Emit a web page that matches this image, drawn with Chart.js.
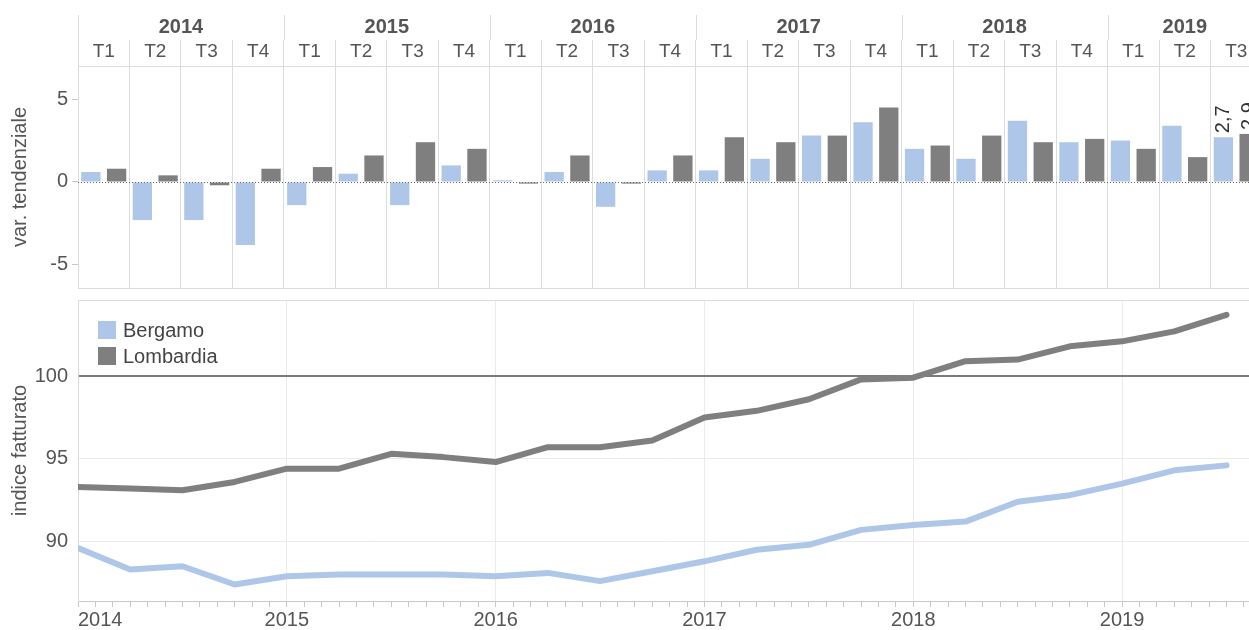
<!DOCTYPE html>
<html lang="it">
<head>
<meta charset="UTF-8">
<title>Fatturato Bergamo e Lombardia</title>
<script src="https://cdn.jsdelivr.net/npm/chart.js"></script>
<style>
  html, body { margin: 0; padding: 0; background: #fff; overflow: hidden; }
  #wrap { position: relative; width: 1249px; height: 630px; overflow: hidden; }
  .box { position: absolute; left: 0; width: 1262px; }
  #top { top: 0; height: 292px; }
  #bottom { top: 292px; height: 338px; }
</style>
</head>
<body>
<div id="wrap">
  <div class="box" id="top"><canvas id="varChart"></canvas></div>
  <div class="box" id="bottom"><canvas id="indexChart"></canvas></div>
</div>
<script>
const yearLabels = ['2014', '2015', '2016', '2017', '2018', '2019'];
const quartersPerYear = [4, 4, 4, 4, 4, 3];
const quarterLabels = [
  'T1', 'T2', 'T3', 'T4', 'T1', 'T2', 'T3', 'T4', 'T1', 'T2', 'T3', 'T4',
  'T1', 'T2', 'T3', 'T4', 'T1', 'T2', 'T3', 'T4', 'T1', 'T2', 'T3'
];

// var. tendenziale (%)
const varBergamo = [0.6, -2.3, -2.3, -3.8, -1.4, 0.5, -1.4, 1.0, 0.1, 0.6, -1.5, 0.7,
                    0.7, 1.4, 2.8, 3.6, 2.0, 1.4, 3.7, 2.4, 2.5, 3.4, 2.7];
const varLombardia = [0.8, 0.4, -0.2, 0.8, 0.9, 1.6, 2.4, 2.0, -0.1, 1.6, -0.1, 1.6,
                      2.7, 2.4, 2.8, 4.5, 2.2, 2.8, 2.4, 2.6, 2.0, 1.5, 2.9];

// indice fatturato
const idxBergamo = [89.6, 88.3, 88.5, 87.4, 87.9, 88.0, 88.0, 88.0, 87.9, 88.1, 87.6, 88.2,
                    88.8, 89.5, 89.8, 90.7, 91.0, 91.2, 92.4, 92.8, 93.5, 94.3, 94.6];
const idxLombardia = [93.3, 93.2, 93.1, 93.6, 94.4, 94.4, 95.3, 95.1, 94.8, 95.7, 95.7, 96.1,
                      97.5, 97.9, 98.6, 99.8, 99.9, 100.9, 101.0, 101.8, 102.1, 102.7, 103.7];

const varTicks = [-5, 0, 5];
const idxTicks = [90, 95, 100];

const fontFamily = '"Liberation Sans", Arial, sans-serif';
const textColor = '#555';
const lineColor = '#dcdcdc';
const blue = '#aec7e8';
const grey = '#7f7f7f';

Chart.defaults.font.family = fontFamily;
Chart.defaults.font.size = 20;
Chart.defaults.color = textColor;
Chart.defaults.animation = false;

// fixed axis box sizes, no extra room for edge labels
const fixWidth = w => s => { s.width = w; s.paddingTop = 0; s.paddingBottom = 0; };
const fixHeight = h => s => { s.height = h; s.paddingLeft = 0; s.paddingRight = 0; };

// year row above the quarter labels, dotted zero line, bottom frame, value labels on last quarter
const varExtras = {
  id: 'varExtras',
  afterDatasetsDraw(chart) {
    const { ctx, chartArea, scales: { y } } = chart;
    const y0 = Math.round(y.getPixelForValue(0)) + 0.5;
    ctx.save();
    ctx.strokeStyle = '#666';
    ctx.lineWidth = 1;
    ctx.setLineDash([1, 2]);
    ctx.beginPath();
    ctx.moveTo(chartArea.left, y0);
    ctx.lineTo(chartArea.right, y0);
    ctx.stroke();
    ctx.setLineDash([]);

    ctx.strokeStyle = lineColor;
    ctx.beginPath();
    ctx.moveTo(chartArea.left, Math.round(chartArea.bottom) + 0.5);
    ctx.lineTo(chartArea.right, Math.round(chartArea.bottom) + 0.5);
    ctx.stroke();

    const last = quarterLabels.length - 1;
    ctx.font = '20px ' + fontFamily;
    ctx.fillStyle = '#333';
    ctx.textAlign = 'left';
    ctx.textBaseline = 'middle';
    chart.data.datasets.forEach((ds, i) => {
      const bar = chart.getDatasetMeta(i).data[last];
      ctx.save();
      ctx.translate(bar.x, bar.y - 4);
      ctx.rotate(-Math.PI / 2);
      ctx.fillText(ds.data[last].toFixed(1).replace('.', ','), 0, 0);
      ctx.restore();
    });
    ctx.restore();
  },
  afterDraw(chart) {
    const { ctx, chartArea, scales: { x } } = chart;
    const half = (x.getPixelForValue(1) - x.getPixelForValue(0)) / 2;
    const bottom = chartArea.top - x.options.grid.tickLength;
    ctx.save();
    ctx.strokeStyle = lineColor;
    ctx.lineWidth = 1;
    ctx.fillStyle = textColor;
    ctx.font = 'bold 20px ' + fontFamily;
    ctx.textAlign = 'center';
    ctx.textBaseline = 'middle';
    let start = 0;
    yearLabels.forEach((yr, i) => {
      const end = start + quartersPerYear[i] - 1;
      const left = x.getPixelForValue(start) - half;
      const right = x.getPixelForValue(end) + half;
      const lx = Math.round(left) + 0.5;
      ctx.beginPath();
      ctx.moveTo(lx, 15);
      ctx.lineTo(lx, bottom);
      ctx.stroke();
      ctx.fillText(yr, (left + right) / 2, 27);
      start = end + 1;
    });
    ctx.restore();
  }
};

new Chart(document.getElementById('varChart'), {
  type: 'bar',
  data: {
    labels: quarterLabels,
    datasets: [
      { label: 'Bergamo', data: varBergamo, backgroundColor: blue },
      { label: 'Lombardia', data: varLombardia, backgroundColor: grey }
    ]
  },
  options: {
    responsive: true,
    maintainAspectRatio: false,
    layout: { padding: { top: 40, bottom: 4, left: 0, right: 0 } },
    datasets: { bar: { categoryPercentage: 1.0, barPercentage: 0.75 } },
    plugins: { legend: { display: false }, tooltip: { enabled: false } },
    scales: {
      x: {
        position: 'top',
        grid: { offset: true, color: lineColor, tickLength: 26, tickColor: lineColor },
        border: { color: lineColor },
        ticks: { font: { size: 19 }, padding: -23, maxRotation: 0, autoSkip: false },
        afterFit: fixHeight(26)
      },
      y: {
        min: -6.4,
        max: 7.0,
        afterBuildTicks: s => { s.ticks = varTicks.map(v => ({ value: v })); },
        grid: { drawOnChartArea: false, tickLength: 6, tickColor: '#c8c8c8' },
        border: { color: lineColor },
        ticks: { padding: 4 },
        title: { display: true, text: 'var. tendenziale', padding: { top: 8, bottom: 0 } },
        afterFit: fixWidth(78)
      }
    }
  },
  plugins: [varExtras]
});

// top frame line and legend inside the plot
const idxExtras = {
  id: 'idxExtras',
  beforeDatasetsDraw(chart) {
    const { ctx, chartArea } = chart;
    ctx.save();
    ctx.strokeStyle = lineColor;
    ctx.lineWidth = 1;
    ctx.beginPath();
    ctx.moveTo(chartArea.left, Math.round(chartArea.top) + 0.5);
    ctx.lineTo(chartArea.right, Math.round(chartArea.top) + 0.5);
    ctx.stroke();
    ctx.restore();
  },
  afterDraw(chart) {
    const { ctx, chartArea } = chart;
    ctx.save();
    ctx.font = '20px ' + fontFamily;
    ctx.textAlign = 'left';
    ctx.textBaseline = 'middle';
    chart.data.datasets.forEach((ds, i) => {
      const bx = chartArea.left + 20;
      const by = chartArea.top + 21 + i * 26;
      ctx.fillStyle = ds.borderColor;
      ctx.fillRect(bx, by, 18, 18);
      ctx.fillStyle = '#444';
      ctx.fillText(ds.label, bx + 25, by + 10);
    });
    ctx.restore();
  }
};

new Chart(document.getElementById('indexChart'), {
  type: 'line',
  data: {
    datasets: [
      { label: 'Bergamo', data: idxBergamo.map((v, i) => ({ x: i, y: v })), borderColor: blue, backgroundColor: blue },
      { label: 'Lombardia', data: idxLombardia.map((v, i) => ({ x: i, y: v })), borderColor: grey, backgroundColor: grey }
    ]
  },
  options: {
    responsive: true,
    maintainAspectRatio: false,
    layout: { padding: { top: 8, bottom: 0, left: 0, right: 0 } },
    elements: {
      line: { borderWidth: 6, tension: 0, borderCapStyle: 'round', borderJoinStyle: 'round' },
      point: { radius: 0 }
    },
    plugins: { legend: { display: false }, tooltip: { enabled: false } },
    scales: {
      x: {
        type: 'linear',
        min: 0,
        max: 22.68,
        afterBuildTicks: s => {
          const ticks = [];
          for (let m = 0; m / 3 <= s.max; m++) ticks.push({ value: m / 3 });
          s.ticks = ticks;
        },
        ticks: {
          autoSkip: false,
          maxRotation: 0,
          align: 'inner',
          padding: 1,
          callback: v => {
            const m = Math.round(v * 3);
            return m % 12 === 0 ? yearLabels[m / 12] : '';
          }
        },
        grid: {
          color: c => (Math.round(c.tick.value * 3) % 12 === 0 ? '#ebebeb' : 'rgba(0,0,0,0)'),
          tickColor: '#c8c8c8',
          tickLength: 6
        },
        border: { color: '#c8c8c8' },
        afterFit: fixHeight(29)
      },
      y: {
        min: 86.4,
        max: 104.6,
        afterBuildTicks: s => { s.ticks = idxTicks.map(v => ({ value: v })); },
        grid: {
          color: c => (c.tick.value === 100 ? '#7a7a7a' : '#ebebeb'),
          lineWidth: c => (c.tick.value === 100 ? 2 : 1),
          drawTicks: false
        },
        border: { color: lineColor },
        ticks: { padding: 10 },
        title: { display: true, text: 'indice fatturato', padding: { top: 8, bottom: 0 } },
        afterFit: fixWidth(78)
      }
    }
  },
  plugins: [idxExtras]
});
</script>
</body>
</html>
